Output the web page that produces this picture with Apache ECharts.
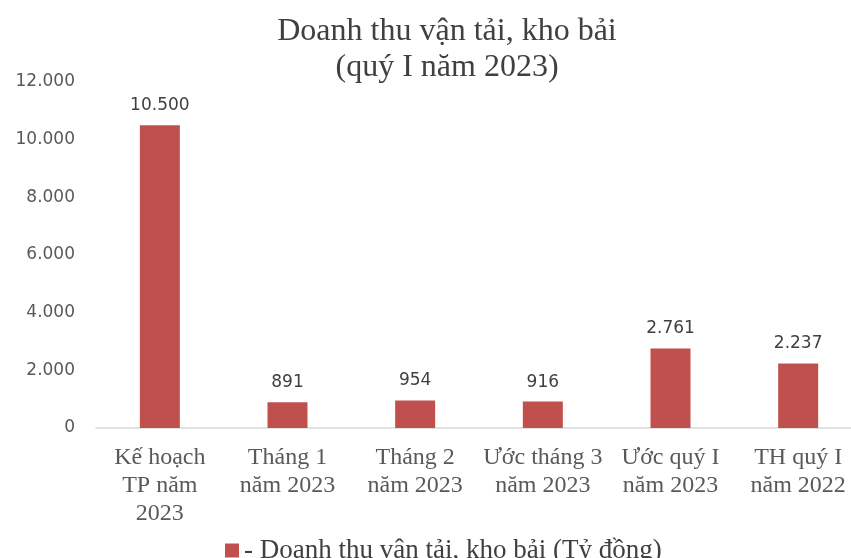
<!DOCTYPE html>
<html>
<head>
<meta charset="utf-8">
<script src="https://cdn.jsdelivr.net/npm/echarts@6/dist/echarts.min.js"></script>
<style>
  html, body { margin: 0; padding: 0; background: #fff; }
  #chart { width: 851px; height: 558px; }
</style>
</head>
<body>
<div id="chart"></div>
<script>
const categories = [
  'Kế hoạch\nTP năm\n2023',
  'Tháng 1\nnăm 2023',
  'Tháng 2\nnăm 2023',
  'Ước tháng 3\nnăm 2023',
  'Ước quý I\nnăm 2023',
  'TH quý I\nnăm 2022'
];
const revenue = [10500, 891, 954, 916, 2761, 2237];
const seriesName = '- Doanh thu vận tải, kho bải (Tỷ đồng)';

// dot as thousands separator, like the source
function fmt(v) {
  return String(v).replace(/\B(?=(\d{3})+(?!\d))/g, '.');
}

const chart = echarts.init(document.getElementById('chart'));
chart.setOption({
  animation: false,
  title: {
    text: 'Doanh thu vận tải, kho bải\n(quý I năm 2023)',
    left: 442,
    textAlign: 'center',
    top: 9,
    textStyle: {
      fontFamily: 'Liberation Serif',
      fontSize: 32,
      fontWeight: 'normal',
      color: '#404040',
      lineHeight: 36
    }
  },
  legend: {
    data: [seriesName],
    icon: 'rect',
    left: 220,
    top: 532,
    itemWidth: 14,
    itemHeight: 14,
    itemGap: 8,
    textStyle: {
      fontFamily: 'Liberation Serif',
      fontSize: 27,
      color: '#404040'
    }
  },
  grid: {
    left: 96,
    right: -11,
    top: 82,
    bottom: 130,
    containLabel: false,
    outerBoundsMode: 'none'
  },
  xAxis: {
    type: 'category',
    data: categories,
    axisTick: { show: false },
    axisLine: { lineStyle: { color: '#d9d9d9', width: 1.5 } },
    axisLabel: {
      interval: 0,
      margin: 16,
      fontFamily: 'Liberation Serif',
      fontSize: 24,
      lineHeight: 28,
      color: '#595959'
    }
  },
  yAxis: {
    type: 'value',
    min: 0,
    max: 12000,
    interval: 2000,
    splitLine: { show: false },
    axisLine: { show: false },
    axisTick: { show: false },
    axisLabel: {
      margin: 21,
      fontFamily: 'DejaVu Sans',
      fontSize: 17,
      color: '#595959',
      formatter: fmt
    }
  },
  series: [{
    name: seriesName,
    type: 'bar',
    data: revenue,
    barWidth: 40,
    itemStyle: { color: '#C0504D' },
    label: {
      show: true,
      position: 'top',
      distance: 11,
      fontFamily: 'DejaVu Sans',
      fontSize: 17,
      color: '#404040',
      formatter: p => fmt(p.value)
    }
  }]
});
</script>
</body>
</html>
